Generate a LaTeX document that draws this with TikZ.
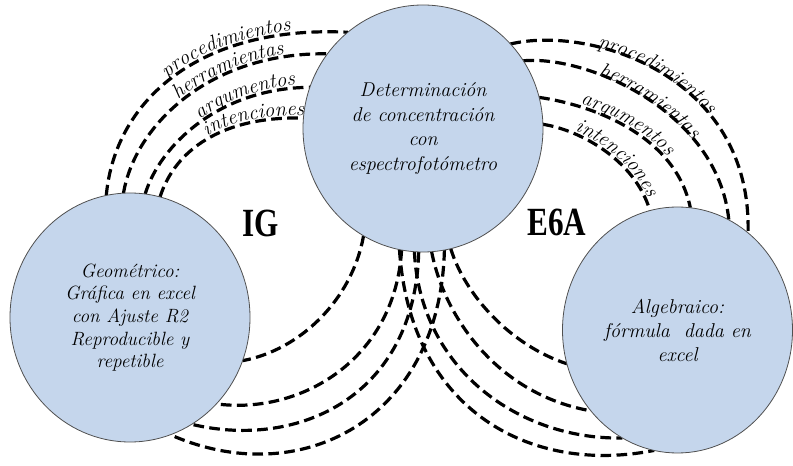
\documentclass[tikz,border=0pt]{standalone}
\usepackage{fontspec}
\usepackage{graphicx}
\newfontfamily\lblfont{Liberation Serif}
\usetikzlibrary{shapes.geometric,decorations.text,backgrounds}
\definecolor{bub}{RGB}{197,214,236}
\definecolor{bord}{RGB}{80,80,80}
\begin{document}
\begin{tikzpicture}[x=0.75pt,y=-0.75pt,
  bubble/.style={ellipse, fill=bub, draw=bord, line width=0.6pt, inner sep=0pt, outer sep=0pt, align=center},
  link/.style={draw=black, line width=2.4pt, dash pattern=on 8pt off 4pt},
  big/.style={font=\lblfont\bfseries\fontsize{30}{30}\selectfont, inner sep=0pt},
  lab/.style n args={3}{postaction={decorate, decoration={text along path,
      text={|\itshape\fontsize{15.5}{15.5}\selectfont|#1}, raise=#3,
      text align={left indent=#2}}}},
]
\useasboundingbox (0,0) rectangle (793,466);

\node[bubble, minimum width=180pt, minimum height=185.25pt,
  font=\itshape\fontsize{15}{18.4}\selectfont] (T) at (423,128.5)
  {Determinación\\de concentración\\con\\espectrofotómetro};
\node[bubble, minimum width=180pt, minimum height=186.75pt,
  font=\itshape\fontsize{14.4}{17}\selectfont] (L) at (130,317.5)
  {Geométrico:\\Gráfica en excel\\con Ajuste R2\\Reproducible y\\repetible};
\node[bubble, minimum width=172.5pt, minimum height=184.5pt,
  font=\itshape\fontsize{15}{18}\selectfont] (R) at (677.5,330)
  {Algebraico:\\fórmula\ \ dada en\\excel};

\node[big] (IG) at (261,223) {\scalebox{0.78}[1]{IG}};
\node[big] (E6A) at (557,222) {\scalebox{0.78}[1]{E6A}};

\begin{scope}[on background layer]
% top-left group
\draw[link, lab={procedimientos}{101pt}{2pt}] (L.101) .. controls (115,100) and (200,25) .. (T.128);
\draw[link, lab={herramientas}{82pt}{2pt}] (L.93) .. controls (135,125) and (210,52) .. (T.142);
\draw[link, lab={argumentos}{70pt}{2pt}] (L.83) .. controls (160,145) and (220,88) .. (T.160);
\draw[link, lab={intenciones}{58pt}{2pt}] (L.76) .. controls (175,150) and (222,116) .. (T.175);
% top-right group
\draw[link, lab={procedimientos}{66pt}{-1pt}] (T.44) .. controls (590,25) and (752,75) .. (R.54);
\draw[link, lab={herramientas}{58pt}{-1pt}] (T.34) .. controls (588,55) and (718,112) .. (R.65);
\draw[link, lab={argumentos}{31pt}{2pt}] (T.15) .. controls (598,106) and (676,138) .. (R.84);
\draw[link, lab={intenciones}{24pt}{2pt}] (T.2) .. controls (580,130) and (635,160) .. (R.103);
% bottom-left group
\draw[link] (T.241) .. controls (352,300) and (300,350) .. (L.339);
\draw[link] (T.260) .. controls (395,360) and (300,415) .. (L.315);
\draw[link] (T.268) .. controls (415,395) and (300,450) .. (L.300);
\draw[link] (T.280) .. controls (440,420) and (300,492) .. (L.289);
% bottom-right group
\draw[link] (T.283) .. controls (465,295) and (510,345) .. (R.197);
\draw[link] (T.274) .. controls (445,320) and (500,395) .. (R.223);
\draw[link] (T.266) .. controls (420,370) and (520,440) .. (R.243);
\draw[link] (T.259) .. controls (410,410) and (530,475) .. (R.259);
\end{scope}
\end{tikzpicture}
\end{document}
